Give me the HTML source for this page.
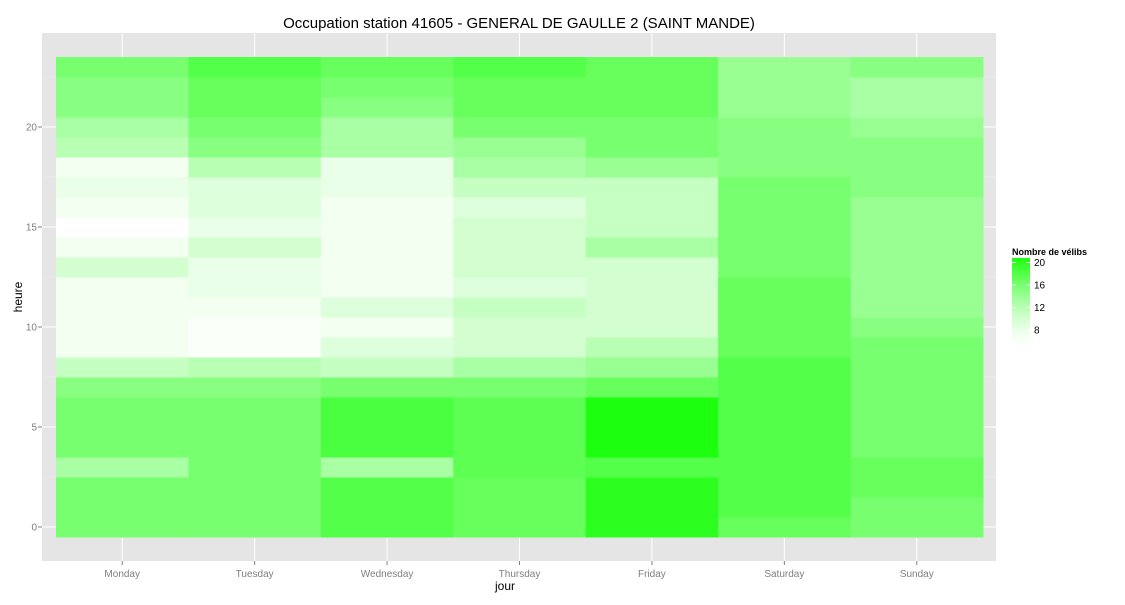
<!DOCTYPE html>
<html><head><meta charset="utf-8"><style>
body{margin:0;background:#fff;font-family:"Liberation Sans",sans-serif;}
</style></head><body>
<svg id="c" width="1125" height="600" xmlns="http://www.w3.org/2000/svg">
<text x="519" y="28" font-size="15" text-anchor="middle">Occupation station 41605 - GENERAL DE GAULLE 2 (SAINT MANDE)</text>
<rect x="42" y="33" width="954" height="528" fill="#E5E5E5"/>
<g id="grid"></g><g id="tiles"></g><g id="axes"></g>
<text x="505" y="590" font-size="12" text-anchor="middle">jour</text>
<text x="22" y="297" font-size="12" text-anchor="middle" transform="rotate(-90 22 297)">heure</text>
<g>
<text x="1012" y="255" font-size="9" font-weight="bold">Nombre de vélibs</text>
<g id="legbar"></g>
<g id="leg"></g>
</g>
</svg>
<script>
const days=["Monday","Tuesday","Wednesday","Thursday","Friday","Saturday","Sunday"];
const hours=[0,1,2,3,4,5,6,7,8,9,10,11,12,13,14,15,16,17,18,19,20,21,22,23];
const monday=[16,16,16,13,16,16,16,15,11,7,7,7,7,10,7,5,7,8,7,12,13,15,15,16];
const tuesday=[16,16,16,16,16,16,16,15,12,6,6,7,8,8,10,8,9,9,12,15,16,17,17,18];
const wednesday=[18,18,18,13,18.5,18.5,18.5,16,11,9,7,9,7,7,7,7,7,8,8,13,13,15,16,17];
const thursday=[17,17,17,17.5,17.5,17.5,17.5,16,13,10,10,11,9,10,10,10,9,11,13,14,16,17,17,18];
const friday=[20,20,20,18,21,21,21,17,14,12,10,10,10,10,13,11,11,11,14,16,16,17,17,17];
const saturday=[17,18,18,18,18,18,18,18,18,17,17,17,17,16,16,16,16,16,15,15,15,14,14,14];
const sunday=[16,16,17,17,16,16,16,16,16,16,15,14,14,14,14,14,14,15,15,15,14,13,13,15];
const series=[monday,tuesday,wednesday,thursday,friday,saturday,sunday];
const yTicks=[0,5,10,15,20];
const legTicks=[8,12,16,20];
const vmin=4.8,vmax=20.8;
const NS="http://www.w3.org/2000/svg";
const colW=(983-56)/7;
const xc=i=>56+colW*(i+0.5);
const yc=h=>527-20*h;
const ly=v=>348-(v-vmin)/(vmax-vmin)*90;
function col(v){let t=Math.max(0,Math.min(1,(v-vmin)/(vmax-vmin)));t=Math.pow(t,1.45);
const r=Math.round(255+(28-255)*t),b=Math.round(255+(14-255)*t);return `rgb(${r},255,${b})`;}
function mk(tag,at,p){const e=document.createElementNS(NS,tag);for(const k in at)e.setAttribute(k,at[k]);p.appendChild(e);return e;}
const grid=document.getElementById('grid'),tiles=document.getElementById('tiles'),axes=document.getElementById('axes'),leg=document.getElementById('leg'),legbar=document.getElementById('legbar');
for(let k=0;k<90;k++){mk('rect',{x:1012,y:258+k,width:18,height:1.2,fill:col(vmax-(k+0.5)/90*(vmax-vmin))},legbar);}
for(let k=0;k<yTicks.length;k++){const v=yTicks[k];
 const l=mk('line',{x1:42,x2:996,y1:yc(v),y2:yc(v),stroke:'#fff','stroke-width':1},grid);
 
 
 const m=mk('line',{x1:42,x2:996,y1:yc(v+2.5),y2:yc(v+2.5),stroke:'#F2F2F2','stroke-width':0.5},grid);
 
 
 const t=mk('text',{x:37,y:yc(v)+3.5,'font-size':10,fill:'#7F7F7F','text-anchor':'end'},axes);t.textContent=v;
 
 
 mk('line',{x1:38,x2:42,y1:yc(v),y2:yc(v),stroke:'#7F7F7F'},axes);}
for(let i=0;i<days.length;i++){
 const l=mk('line',{x1:xc(i),x2:xc(i),y1:33,y2:561,stroke:'#fff','stroke-width':1},grid);
 
 
 const t=mk('text',{x:xc(i),y:577,'font-size':10,fill:'#7F7F7F','text-anchor':'middle'},axes);t.textContent=days[i];
 
 
 mk('line',{x1:xc(i),x2:xc(i),y1:561,y2:565,stroke:'#7F7F7F'},axes);
 for(let j=0;j<hours.length;j++){const v=series[i][j];
  const r=mk('rect',{x:xc(i)-colW/2,y:yc(hours[j])-10,width:colW+0.5,height:20.5,fill:col(v)},tiles);
  
  }}
for(const v of legTicks){
 mk('line',{x1:1012,x2:1016,y1:ly(v),y2:ly(v),stroke:'#fff'},leg);
 mk('line',{x1:1026,x2:1030,y1:ly(v),y2:ly(v),stroke:'#fff'},leg);
 const t=mk('text',{x:1034,y:ly(v)+3.5,'font-size':10,fill:'#000'},leg);t.textContent=v;
 
 }
</script>
</body></html>
